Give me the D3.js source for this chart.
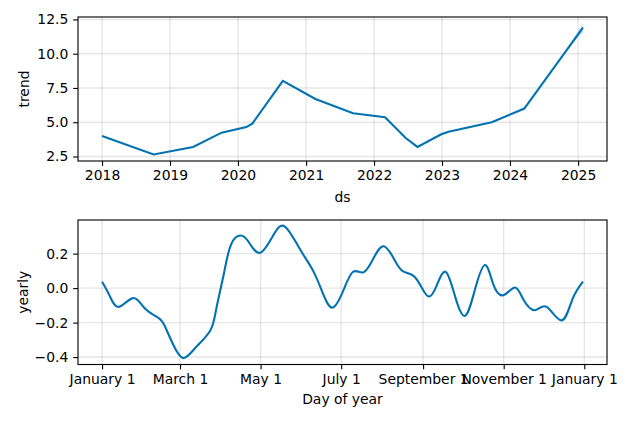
<!DOCTYPE html>
<html>
<head>
<meta charset="utf-8">
<script src="https://cdn.jsdelivr.net/npm/d3@7"></script>
<style>
  body { margin: 0; background: #fff; }
  text { font-family: "DejaVu Sans", sans-serif; }
</style>
</head>
<body>
<div id="chart"></div>
<script>
// trend component (changepoint vertices)
const trendDates = ["2018-01-01", "2018-10-05", "2019-05-05", "2019-10-05", "2020-02-15", "2020-03-18",
  "2020-08-29", "2021-02-20", "2021-09-10", "2022-03-01", "2022-06-20", "2022-08-22", "2022-12-28",
  "2023-02-05", "2023-09-25", "2024-03-18", "2025-01-27"];
const trendValues = [4.0, 2.65, 3.2, 4.24, 4.65, 4.9, 8.02, 6.7, 5.66, 5.37, 3.85, 3.2, 4.12,
  4.31, 5.0, 6.0, 11.9];
// trend uncertainty (only visible in the forecast part)
const bandDates = ["2024-09-30", "2024-12-01", "2025-01-27"];
const bandLower = [9.7, 10.72, 11.55];
const bandUpper = [9.7, 11.02, 12.2];

// yearly seasonality: day of year (from Jan 1) and value
const yearlyDays = [0, 5.8, 12.6, 23.5, 32.3, 42.4, 47.5, 53.8, 61.3, 70.2, 81.6, 85.9, 89.1, 92.4,
  95.4, 99.2, 104.5, 110.6, 119.4, 129.5, 138.4, 149.7, 159.8, 167.4, 174.5, 182.5, 190, 197.7,
  205.2, 213.3, 221.7, 227.9, 235.5, 241.9, 247.4, 253.2, 260, 267.1, 274.7, 282.2, 289.8,
  296.1, 303.7, 312.5, 318.8, 327.7, 336.5, 347.9, 356, 364];
const yearlyValues = [0.037, -0.045, -0.109, -0.058, -0.117, -0.171, -0.22, -0.327, -0.405, -0.35,
  -0.25, -0.142, -0.026, 0.091, 0.198, 0.276, 0.305, 0.272, 0.204, 0.305, 0.357, 0.227, 0.10,
  -0.035, -0.113, -0.016, 0.095, 0.091, 0.169, 0.243, 0.159, 0.097, 0.072, 0.004, -0.049, 0.013,
  0.095, -0.045, -0.161, -0.01, 0.134, 0.023, -0.041, 0.004, -0.064, -0.128, -0.109, -0.187,
  -0.065, 0.038];

const trendYTicks = [2.5, 5.0, 7.5, 10.0, 12.5];
const yearlyYTicks = [-0.4, -0.2, 0.0, 0.2];
const yearlyXTicks = ["2017-01-01", "2017-03-01", "2017-05-01", "2017-07-01", "2017-09-01", "2017-11-01", "2018-01-01"];

const width = 634, height = 422;
const color = "#0072B2";
const fontSize = 13.9;
const tickLen = 4.86;

const parse = d3.utcParse("%Y-%m-%d");
const base = parse("2017-01-01");

const svg = d3.select("#chart").append("svg").attr("width", width).attr("height", height);

// matplotlib style 5% margins
function padded(ext) {
  const m = (ext[1] - ext[0]) * 0.05;
  return [+ext[0] - m, +ext[1] + m];
}

function drawPanel({ top, bottom, left, right, xDomain, yDomain, xTicks, xFormat, yTicks, yLabel, xLabel, yLabelX, xLabelY }) {
  const x = d3.scaleUtc().domain(xDomain).range([left, right]);
  const y = d3.scaleLinear().domain(yDomain).range([bottom, top]);
  const g = svg.append("g");

  // grid
  const grid = g.append("g").attr("stroke", "gray").attr("stroke-opacity", 0.2).attr("stroke-width", 1.39);
  grid.selectAll(".gx").data(xTicks).join("line")
    .attr("x1", (d) => x(d)).attr("x2", (d) => x(d)).attr("y1", top).attr("y2", bottom);
  grid.selectAll(".gy").data(yTicks).join("line")
    .attr("x1", left).attr("x2", right).attr("y1", (d) => y(d)).attr("y2", (d) => y(d));

  const xAxis = g.append("g").attr("transform", `translate(0,${bottom})`)
    .call(d3.axisBottom(x).tickValues(xTicks).tickFormat(xFormat).tickSizeOuter(0).tickSize(tickLen).tickPadding(4.3));
  const yAxis = g.append("g").attr("transform", `translate(${left},0)`)
    .call(d3.axisLeft(y).tickValues(yTicks).tickFormat(d3.format(".1f")).tickSizeOuter(0).tickSize(tickLen).tickPadding(4.86));
  [xAxis, yAxis].forEach((a) => {
    a.select(".domain").remove();
    a.selectAll("line").attr("stroke", "#000").attr("stroke-width", 1.11);
    a.selectAll("text").attr("font-size", fontSize).attr("font-family", "DejaVu Sans").attr("fill", "#000");
  });

  g.append("rect").attr("x", left).attr("y", top).attr("width", right - left).attr("height", bottom - top)
    .attr("fill", "none").attr("stroke", "#000").attr("stroke-width", 1.11);

  g.append("text").attr("transform", `translate(${yLabelX},${(top + bottom) / 2}) rotate(-90)`)
    .attr("text-anchor", "middle").attr("dominant-baseline", "central")
    .attr("font-size", fontSize).text(yLabel);
  g.append("text").attr("x", (left + right) / 2).attr("y", xLabelY)
    .attr("text-anchor", "middle").attr("dominant-baseline", "central")
    .attr("font-size", fontSize).text(xLabel);

  return { g, x, y };
}

// ---- trend panel ----
const tDates = trendDates.map(parse);
const bDates = bandDates.map(parse);
const p1 = drawPanel({
  top: 17, bottom: 161, left: 78, right: 607,
  xDomain: padded(d3.extent(tDates)).map((d) => new Date(d)),
  yDomain: padded([d3.min(trendValues), d3.max(bandUpper)]),
  xTicks: d3.range(2018, 2026).map((yr) => new Date(Date.UTC(yr, 0, 1))),
  xFormat: d3.utcFormat("%Y"),
  yTicks: trendYTicks,
  yLabel: "trend", xLabel: "ds", yLabelX: 23.5, xLabelY: 197
});
p1.g.append("path")
  .datum(bDates.map((d, i) => ({ d, lo: bandLower[i], hi: bandUpper[i] })))
  .attr("fill", color).attr("fill-opacity", 0.2)
  .attr("d", d3.area().x((p) => p1.x(p.d)).y0((p) => p1.y(p.lo)).y1((p) => p1.y(p.hi)));
p1.g.append("path")
  .datum(tDates.map((d, i) => ({ d, v: trendValues[i] })))
  .attr("fill", "none").attr("stroke", color).attr("stroke-width", 2.08)
  .attr("d", d3.line().x((p) => p1.x(p.d)).y((p) => p1.y(p.v)));

// ---- yearly panel ----
const yDates = yearlyDays.map((dd) => new Date(+base + dd * 864e5));
const p2 = drawPanel({
  top: 220, bottom: 364.5, left: 78, right: 607,
  xDomain: padded([base, new Date(+base + 364 * 864e5)]).map((d) => new Date(d)),
  yDomain: padded(d3.extent(yearlyValues)),
  xTicks: yearlyXTicks.map(parse),
  xFormat: d3.utcFormat("%B %-d"),
  yTicks: yearlyYTicks,
  yLabel: "yearly", xLabel: "Day of year", yLabelX: 22.5, xLabelY: 399
});
p2.g.append("path")
  .datum(yDates.map((d, i) => ({ d, v: yearlyValues[i] })))
  .attr("fill", "none").attr("stroke", color).attr("stroke-width", 2.08)
  .attr("d", d3.line().curve(d3.curveNatural).x((p) => p2.x(p.d)).y((p) => p2.y(p.v)));
</script>
</body>
</html>
